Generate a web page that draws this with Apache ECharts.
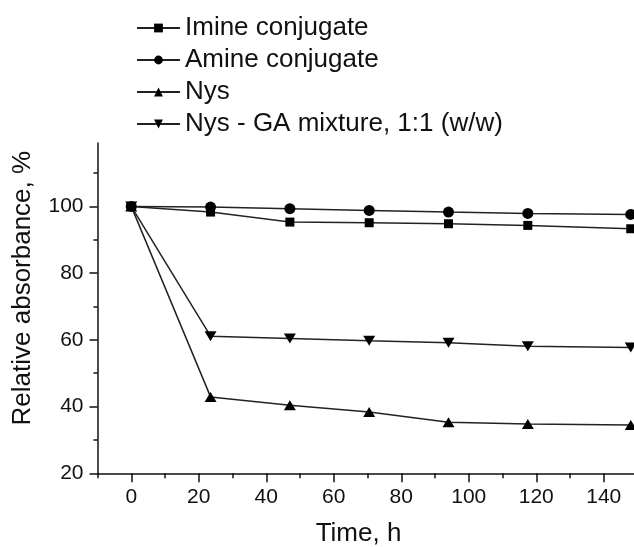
<!DOCTYPE html>
<html>
<head>
<meta charset="utf-8">
<script src="https://cdn.jsdelivr.net/npm/echarts@6/dist/echarts.min.js"></script>
<style>
  html, body { margin: 0; padding: 0; background: #fff; }
  #chart { width: 634px; height: 547px; }
</style>
</head>
<body>
<div id="chart"></div>
<script>
// time points (h)
var times = [0, 23.5, 47, 70.5, 94, 117.5, 148];

var imine = [100, 98.3, 95.3, 95.1, 94.8, 94.3, 93.3];
var amine = [100, 99.8, 99.3, 98.8, 98.3, 97.9, 97.6];
var nys = [100, 42.9, 40.4, 38.4, 35.3, 34.8, 34.5];
var nysGA = [100, 61.1, 60.4, 59.7, 59.1, 58.1, 57.7];

var xMajor = [0, 20, 40, 60, 80, 100, 120, 140];
var xMinor = [-10, 10, 30, 50, 70, 90, 110, 130, 150];
var yMajor = [20, 40, 60, 80, 100];
var yMinor = [30, 50, 70, 90, 110];

var names = ['Imine conjugate', 'Amine conjugate', 'Nys', 'Nys - GA mixture, 1:1 (w/w)'];

function pairs(ys) {
  return ys.map(function (v, i) { return [times[i], v]; });
}

var font = 'Liberation Sans, Arial, sans-serif';
var ink = '#111';

var dom = document.getElementById('chart');
var myChart = echarts.init(dom);

// shared bits for the overlaid axes
function xAx(ticks, len, showLine, showLabel) {
  return {
    type: 'value', position: 'bottom', min: -10, max: 150,
    axisLine: { show: showLine, onZero: false, lineStyle: { color: ink, width: 1.5 } },
    axisTick: { show: true, inside: false, length: len, customValues: ticks, lineStyle: { color: ink, width: 1.5 } },
    axisLabel: { show: showLabel, customValues: ticks, margin: 13, color: ink, fontSize: 21, fontFamily: font },
    splitLine: { show: false }
  };
}
function yAx(ticks, len, showLine, showLabel) {
  return {
    type: 'value', position: 'left', min: 20, max: 119,
    axisLine: { show: showLine, onZero: false, lineStyle: { color: ink, width: 1.5 } },
    axisTick: { show: true, inside: false, length: len, customValues: ticks, lineStyle: { color: ink, width: 1.5 } },
    axisLabel: { show: showLabel, customValues: ticks, margin: 14, color: ink, fontSize: 21, fontFamily: font },
    splitLine: { show: false }
  };
}

var xMain = xAx(xMajor, 9, true, true);
xMain.name = 'Time, h';
xMain.nameLocation = 'middle';
xMain.nameGap = 48;
xMain.nameTextStyle = { color: ink, fontSize: 26, fontFamily: font, padding: [0, 18, 0, 0] };

var yMain = yAx(yMajor, 8, true, true);
yMain.name = 'Relative absorbance, %';
yMain.nameLocation = 'middle';
yMain.nameGap = 62;
yMain.nameTextStyle = { color: ink, fontSize: 26, fontFamily: font, padding: [0, 0, 0, 40] };

function line(name, ys, symbol, size) {
  return {
    name: name,
    type: 'line',
    data: pairs(ys),
    symbol: symbol,
    symbolSize: size,
    showAllSymbol: true,
    lineStyle: { color: '#222', width: 1.5 },
    itemStyle: { color: '#000', borderWidth: 0 },
    emphasis: { disabled: true },
    clip: false
  };
}

var option = {
  animation: false,
  backgroundColor: '#fff',
  grid: { left: 97.5, top: 143, width: 540, height: 330.3, containLabel: false, outerBoundsMode: 'none' },
  legend: {
    orient: 'vertical',
    left: 131,
    top: 10,
    itemWidth: 43,
    itemHeight: 11,
    itemGap: 6,
    data: names,
    textStyle: { color: ink, fontSize: 26, fontFamily: font },
    inactiveColor: '#000'
  },
  xAxis: [xMain, xAx(xMinor, 5, false, false)],
  yAxis: [yMain, yAx(yMinor, 4, false, false)],
  series: [
    line(names[0], imine, 'rect', 9),
    line(names[1], amine, 'circle', 11),
    line(names[2], nys, 'triangle', [12, 10]),
    line(names[3], nysGA, 'path://M0,0 L12,0 L6,10 Z', [12, 10])
  ]
};

if (option && typeof option === 'object') {
  myChart.setOption(option, true);
}
</script>
</body>
</html>
